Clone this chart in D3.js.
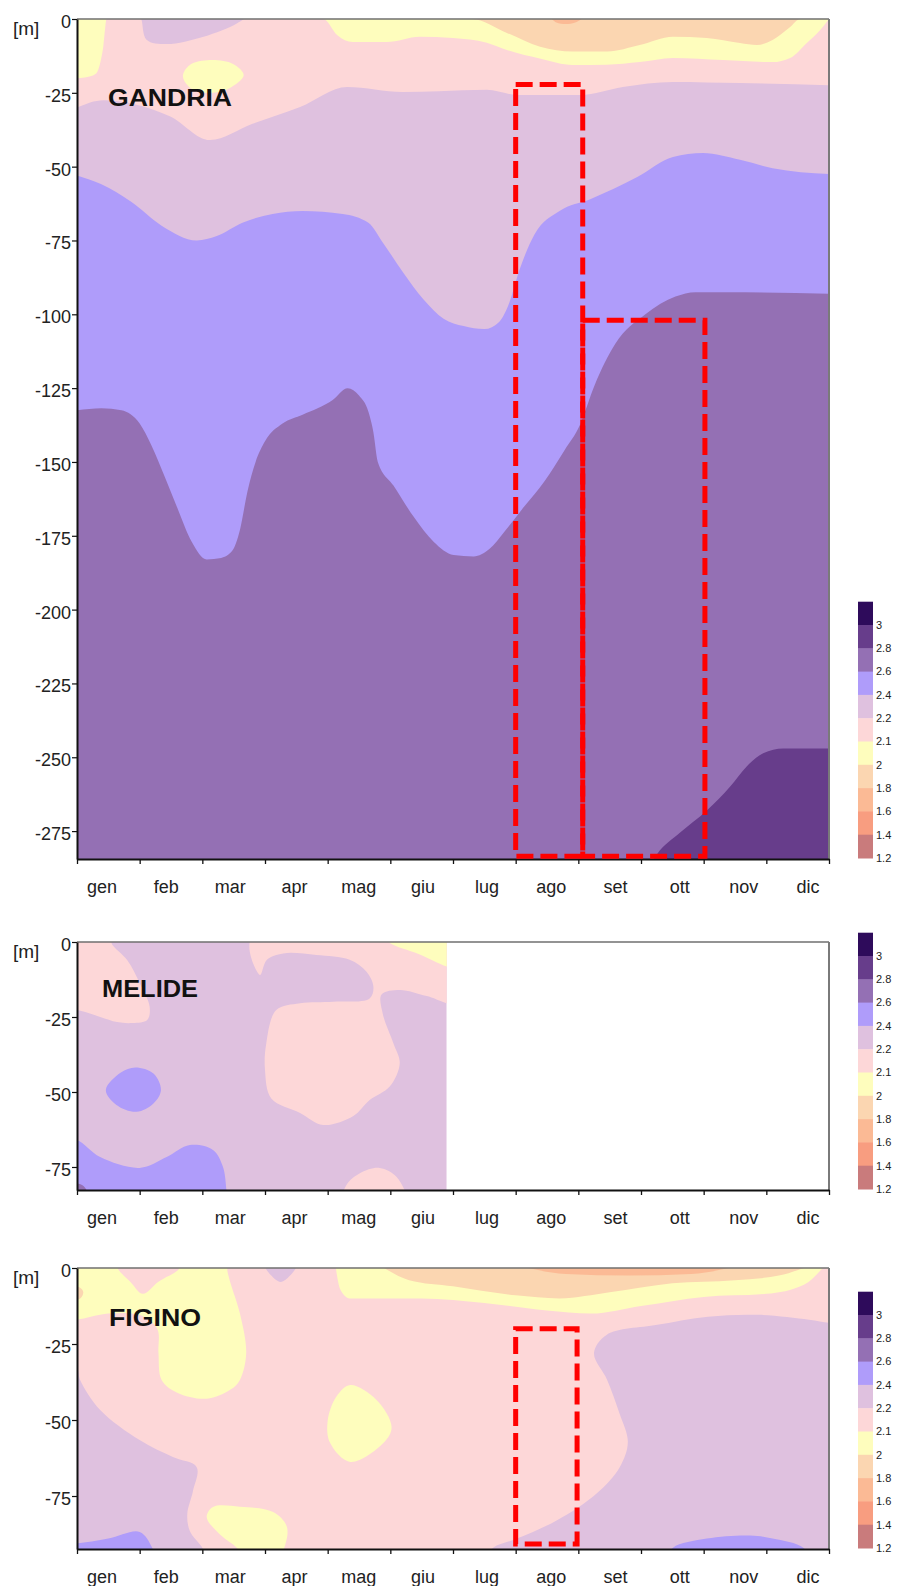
<!DOCTYPE html>
<html><head><meta charset="utf-8">
<script src="https://cdn.jsdelivr.net/npm/d3@7"></script>
<style>
body{margin:0;background:#fff}
svg{display:block}
text{font-family:"Liberation Sans",Arial,sans-serif}
</style>
</head><body>
<svg id="c" width="898" height="1586"></svg>
<script>
// ---------- data ----------
const months = ["gen","feb","mar","apr","mag","giu","lug","ago","set","ott","nov","dic"];
const classBreaks = [1.4,1.6,1.8,2,2.1,2.2,2.4,2.6,2.8,3];
const classColors = ["#c97b7c","#f89d80","#fbba95","#fbd6b1","#fefdbd","#fdd7d8","#dfc1df","#af9cfa","#9470b4","#673d8b","#2e0b5b"];
const legendLabels = ["3","2.8","2.6","2.4","2.2","2.1","2","1.8","1.6","1.4","1.2"];

const gandriaTicks = [0,25,50,75,100,125,150,175,200,225,250,275];
const melideTicks = [0,25,50,75];
const figinoTicks = [0,25,50,75];

// GANDRIA: isoline depths [month, depth m] (area from surface down to line)
const gandriaLine26 = [[0,132.5],[0.39,131.8],[0.71,132.5],[1.0,137],[1.19,144.5],[1.4,155],[1.59,165],[1.83,177],[2.07,183],[2.3,182.5],[2.48,180],[2.6,173],[2.72,160],[2.85,150],[3.0,143],[3.28,137],[3.6,134],[4.08,129],[4.32,125],[4.5,127.5],[4.65,133],[4.73,140],[4.8,150],[5.05,158],[5.37,168.5],[5.69,177],[6.01,181.5],[6.33,182],[6.58,179.5],[6.82,173.6],[7.14,165],[7.46,156.5],[7.78,146],[8.02,137.7],[8.26,124],[8.59,110],[9.07,100],[9.55,94],[9.87,92.5],[10.35,92.5],[12,93]];
const gandriaLine24 = [[0,53],[0.39,56],[0.87,62],[1.35,70],[1.91,75],[2.23,73.5],[2.64,69],[3.12,66],[3.6,65],[4.24,66],[4.65,69],[4.89,76],[5.21,86],[5.53,95],[5.85,101.5],[6.17,104],[6.5,105],[6.74,102.5],[6.9,96],[7.06,85],[7.3,73],[7.7,65],[8.19,61],[8.94,53.5],[9.51,46.7],[9.99,45.4],[10.58,47.7],[11.1,50.5],[12,52.5]];
const gandriaLine22 = [[0,30],[0.42,27.5],[0.95,29],[1.49,33],[2.12,41],[2.8,35.5],[3.56,29.8],[4.31,23],[5.2,24.7],[5.77,24.5],[6.54,24],[7.02,25.7],[8.03,25.7],[8.71,23],[9.51,21.3],[10.58,21.7],[12,22.4]];
const gandriaLine21 = [[0,20],[0.05,20],[0.2,19.5],[0.31,18.4],[0.38,14],[0.42,9.2],[0.45,3],[0.47,0],[3.93,0],[4.15,5.4],[4.4,7.8],[4.94,7.8],[5.47,6],[6.0,6.4],[6.54,8],[6.86,10.5],[7.4,13.5],[7.91,15.6],[8.45,15.5],[8.98,14.6],[9.51,13.2],[10.31,13.9],[11.1,14.6],[11.38,13.2],[11.65,8],[11.86,3.7],[12,0]];
const gandriaLine20 = [[0,0],[6.3,0],[6.86,4.7],[7.39,9.4],[7.91,11],[8.46,11],[8.98,8.8],[9.51,6],[10.05,6.4],[10.58,8.1],[10.85,8.8],[11.1,7.1],[11.38,2.7],[11.54,0],[12,0]];
const gandriaLine28 = [[9.05,290],[9.25,283],[9.62,275.6],[10.05,268],[10.42,260],[10.69,253],[10.95,248.6],[11.27,247],[12,247]];
const gandriaLilacTop = [[1.0,-1],[2.7,-1],[2.55,1.5],[2.02,6],[1.43,8.5],[1.11,7],[1.03,0.3]];
const gandriaYellowBlob = [[1.69,19.5],[1.8,15.6],[2.12,13.9],[2.49,15.2],[2.66,19],[2.44,23.4],[2.17,25],[1.85,24]];
const gandriaOrangeSpot = [[7.55,-1],[8.1,-1],[7.95,1.2],[7.8,1.7],[7.65,1.2]];

// MELIDE (data up to end of June)
const melidePinkLeft = [[-0.2,-1],[0.53,-1],[0.56,0.8],[0.8,6],[1.0,13.7],[1.16,21.7],[1.12,26],[0.89,27],[0.64,26.7],[0.37,25],[0,22.7],[-0.2,22.5]];
const melidePinkMid = [[2.78,-1],[6.1,-1],[6.1,20.5],[5.58,18],[5.15,16],[4.86,17.5],[4.88,24],[5.05,33.8],[5.15,40.4],[4.99,48.2],[4.67,52.7],[4.41,58],[3.93,61],[3.56,57],[3.1,52.2],[3.0,42.7],[3.02,33.8],[3.18,22.7],[3.56,20.4],[4.09,19.9],[4.67,18.8],[4.73,14.9],[4.62,9.9],[4.35,5.9],[3.82,4.3],[3.29,3.8],[3.03,5.9],[2.92,11]];
const melideYellow = [[4.95,-1],[6.1,-1],[6.1,9.5],[5.9,8.2],[5.45,4],[5.0,0.4]];
const melideBlueBlob = [[0.46,49.3],[0.7,43.5],[0.93,41.8],[1.22,43.8],[1.34,49.3],[1.22,53.8],[0.95,56.6],[0.63,54.3]];
const melideBlueBottom = [[-0.2,66],[0,66],[0.37,71.7],[1.0,75.3],[1.43,71.7],[1.8,67.7],[2.17,69.3],[2.33,75],[2.39,84],[2.4,86],[-0.2,86]];
const melidePinkBottom = [[4.25,86],[4.3,81],[4.52,77],[4.83,75.3],[5.1,78.3],[5.24,86]];
const melidePurpleCorner = [[-0.2,80.5],[0.08,81],[0.16,83],[0.2,86],[-0.2,86]];

// FIGINO
const figinoLilacLeft = [[-0.2,30],[0,33],[0.05,36.8],[0.37,46.7],[1.0,56.6],[1.53,62.2],[1.91,65.5],[1.85,73.4],[1.76,80.9],[1.8,86.5],[2.01,92.4],[2.05,96],[-0.2,96]];
const figinoBlueLeft = [[-0.2,90],[0,90.5],[0.5,89],[1.0,86.8],[1.2,92],[1.25,96],[-0.2,96]];
const figinoLilacRight = [[6.5,96],[6.64,92],[7.02,89],[7.66,83],[8.3,74],[8.66,65.5],[8.79,57.2],[8.66,48],[8.46,36.8],[8.25,28],[8.45,22],[9.26,18.7],[10.07,16],[10.87,15.4],[11.68,17],[12,18],[12.2,18],[12.2,96]];
const figinoBlueRight = [[9.4,96],[9.51,92],[10.05,89],[10.74,88],[11.1,89],[11.59,92],[11.7,96]];
const figinoLine21 = [[4.13,0],[4.2,7],[4.35,10],[5,10],[5.5,10],[6.5,11.5],[7.5,14],[8.2,15],[9,12.5],[10,9.5],[11,8.5],[11.6,5.5],[11.9,0]];
const figinoLine20 = [[4.9,0],[5.3,4],[6,6],[7,9],[7.7,10],[8.5,8],[9.5,5],[10.5,4],[11.2,2.5],[11.6,0]];
const figinoLine18 = [[7.2,0],[7.8,2],[8.8,2.5],[9.8,2],[10.4,0]];
const figinoYellowLeft = [[-0.2,-1],[0.64,-1],[0.66,0.5],[0.85,4.5],[1.05,8.5],[1.3,4.5],[1.62,0.5],[1.64,-1],[2.39,-1],[2.4,1],[2.45,5],[2.6,15],[2.7,28],[2.6,36.8],[2.45,40],[2.07,43],[1.6,41],[1.35,36.8],[1.3,28],[1.28,20],[1.0,15.5],[0.5,15],[0,17],[-0.2,17]];
const figinoOrangeLeft = [[-0.2,6],[0.05,6.5],[0.1,8],[0.05,10],[-0.2,10.5]];
const figinoLilacSpot = [[3.0,-1],[3.5,-1],[3.4,2.5],[3.25,4.6],[3.1,2.5]];
const figinoYellowMag = [[4.0,50.3],[4.14,42.3],[4.36,38.5],[4.78,43.4],[5.02,52.3],[4.89,57.6],[4.36,63.8],[4.04,57.6]];
const figinoYellowBottom = [[2.07,82],[2.17,78.6],[2.6,78.5],[3.13,80.3],[3.35,85.2],[3.3,92.5],[3.2,96],[2.7,96],[2.55,92],[2.3,88]];

// red dashed frames [month0, month1, depth0, depth1]
const gandriaBoxes = [[7.0,8.07,22.2,283.5],[8.07,10.02,102,283.5]];
const melideBoxes = [];
const figinoBoxes = [[7.0,7.98,20,90.8]];

// ---------- drawing ----------
const svg = d3.select("#c");
const color = d3.scaleThreshold().domain(classBreaks).range(classColors);
const x = d3.scaleLinear().domain([0,12]).range([77,829]);
const xLab = d3.scalePoint().domain(months).range([102,808]);

const panels = [
  {name:"GANDRIA", top:19, bottom:859, dmax:284.45, xmax:12, ticks:gandriaTicks, base:2.7,
   titleX:108, titleDy:87, titleLen:124, boxes:gandriaBoxes,
   layers:[
     {t:"area", v:2.5, p:gandriaLine26},
     {t:"area", v:2.3, p:gandriaLine24},
     {t:"area", v:2.15, p:gandriaLine22},
     {t:"area", v:2.05, p:gandriaLine21},
     {t:"area", v:1.9, p:gandriaLine20},
     {t:"deep", v:2.9, p:gandriaLine28},
     {t:"blob", v:2.3, p:gandriaLilacTop},
     {t:"blob", v:2.05, p:gandriaYellowBlob},
     {t:"blob", v:1.7, p:gandriaOrangeSpot}
   ]},
  {name:"MELIDE", top:942, bottom:1190, dmax:82.67, xmax:5.9, ticks:melideTicks, base:2.3,
   titleX:102, titleDy:55, titleLen:96, boxes:melideBoxes,
   layers:[
     {t:"blob", v:2.15, p:melidePinkLeft},
     {t:"blob", v:2.15, p:melidePinkMid},
     {t:"blob", v:2.05, p:melideYellow},
     {t:"blob", v:2.5, p:melideBlueBlob},
     {t:"blob", v:2.5, p:melideBlueBottom},
     {t:"blob", v:2.15, p:melidePinkBottom},
     {t:"blob", v:2.7, p:melidePurpleCorner}
   ]},
  {name:"FIGINO", top:1268, bottom:1549, dmax:92.43, xmax:12, ticks:figinoTicks, base:2.15,
   titleX:109, titleDy:58, titleLen:92, boxes:figinoBoxes,
   layers:[
     {t:"blob", v:2.3, p:figinoLilacLeft},
     {t:"blob", v:2.5, p:figinoBlueLeft},
     {t:"blob", v:2.3, p:figinoLilacRight},
     {t:"blob", v:2.5, p:figinoBlueRight},
     {t:"area", v:2.05, p:figinoLine21},
     {t:"area", v:1.9, p:figinoLine20},
     {t:"area", v:1.7, p:figinoLine18},
     {t:"blob", v:2.05, p:figinoYellowLeft},
     {t:"blob", v:1.9, p:figinoOrangeLeft},
     {t:"blob", v:2.3, p:figinoLilacSpot},
     {t:"blob", v:2.05, p:figinoYellowMag},
     {t:"blob", v:2.05, p:figinoYellowBottom}
   ]}
];

const defs = svg.append("defs");

panels.forEach((P,i)=>{
  const y = d3.scaleLinear().domain([0,P.dmax]).range([P.top,P.bottom]);
  const g = svg.append("g");
  const cid = "clip"+i;
  defs.append("clipPath").attr("id",cid).append("rect")
    .attr("x",x(0)).attr("y",y(0)).attr("width",x(P.xmax)-x(0)).attr("height",y(P.dmax)-y(0));
  const data = g.append("g").attr("clip-path",`url(#${cid})`);
  data.append("rect").attr("x",x(0)).attr("y",y(0)).attr("width",x(P.xmax)-x(0)).attr("height",y(P.dmax)-y(0))
    .attr("fill",color(P.base));
  const areaTop = d3.area().x(d=>x(d[0])).y0(y(0)-4).y1(d=>y(d[1])).curve(d3.curveMonotoneX);
  const areaDeep = d3.area().x(d=>x(d[0])).y0(d=>y(d[1])).y1(y(P.dmax)+4).curve(d3.curveMonotoneX);
  const blob = d3.line().x(d=>x(d[0])).y(d=>y(d[1])).curve(d3.curveCatmullRomClosed.alpha(0.5));
  P.layers.forEach(L=>{
    const gen = L.t==="area"?areaTop:(L.t==="deep"?areaDeep:blob);
    data.append("path").attr("d",gen(L.p)).attr("fill",color(L.v)).attr("stroke","none");
  });

  // frame
  g.append("line").attr("x1",x(0)).attr("x2",x(12)).attr("y1",y(0)).attr("y2",y(0))
    .attr("stroke","#6f6f6f").attr("stroke-width",1.6);
  g.append("line").attr("x1",x(12)).attr("x2",x(12)).attr("y1",y(0)).attr("y2",y(P.dmax))
    .attr("stroke","#7a7a7a").attr("stroke-width",2);

  // left axis
  const ax = d3.axisLeft(y).tickValues(P.ticks).tickSize(5).tickSizeOuter(0).tickPadding(1)
    .tickFormat(d=>d===0?"0":"-"+d);
  const ga = g.append("g").attr("transform",`translate(${x(0)},0)`).call(ax);
  ga.select(".domain").attr("stroke","#111").attr("stroke-width",2);
  ga.selectAll(".tick line").attr("stroke","#111").attr("stroke-width",1.2);
  ga.selectAll(".tick text").attr("font-size",18).attr("fill","#222").attr("dy","0.47em")
    .attr("font-family","'Liberation Sans',Arial,sans-serif");

  // bottom axis
  const bx = d3.axisBottom(x).tickValues(d3.range(0,13)).tickSize(5).tickSizeOuter(0).tickFormat("");
  const gb = g.append("g").attr("transform",`translate(0,${y(P.dmax)})`).call(bx);
  gb.select(".domain").attr("stroke","#111").attr("stroke-width",2);
  gb.selectAll(".tick line").attr("stroke","#111").attr("stroke-width",1.3);
  g.selectAll(".mlab").data(months).join("text").attr("class","mlab")
    .attr("x",d=>xLab(d)).attr("y",y(P.dmax)+34).attr("text-anchor","middle")
    .attr("font-size",18).attr("fill","#222").text(d=>d);

  // unit label
  g.append("text").attr("x",13).attr("y",P.top+16).attr("font-size",19).attr("fill","#222").text("[m]");

  // station title
  g.append("text").attr("x",P.titleX).attr("y",P.top+P.titleDy).attr("font-size",24)
    .attr("font-weight","bold").attr("fill","#111")
    .attr("textLength",P.titleLen).attr("lengthAdjust","spacingAndGlyphs").text(P.name);

  // red dashed boxes
  g.selectAll(".box").data(P.boxes).join("rect").attr("class","box")
    .attr("x",d=>x(d[0])).attr("y",d=>y(d[2]))
    .attr("width",d=>x(d[1])-x(d[0])).attr("height",d=>y(d[3])-y(d[2]))
    .attr("fill","none").attr("stroke","#ff0000").attr("stroke-width",5)
    .attr("stroke-dasharray","17,7");

  // legend
  const sh = 23.3, lb = P.bottom - 1, lt = lb - sh*classColors.length;
  const lg = g.append("g");
  const rev = classColors.slice().reverse();
  lg.selectAll("rect").data(rev).join("rect")
    .attr("x",858).attr("y",(d,k)=>lt+k*sh).attr("width",15).attr("height",sh+0.5).attr("fill",d=>d);
  lg.selectAll("text").data(legendLabels).join("text")
    .attr("x",876).attr("y",(d,k)=>lt+(k+1)*sh).attr("dy","0.35em")
    .attr("font-size",11).attr("fill","#222").text(d=>d);
});
</script>
</body></html>
